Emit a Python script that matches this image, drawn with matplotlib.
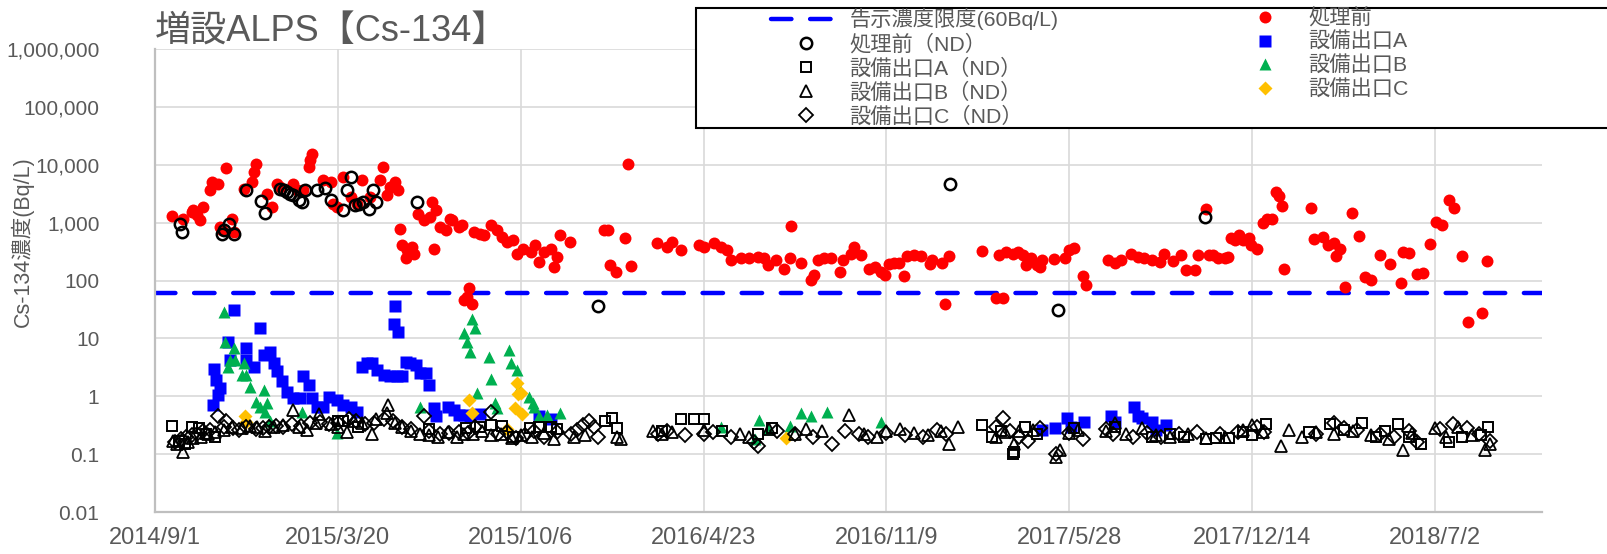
import numpy as np
import matplotlib
matplotlib.use('Agg')
import matplotlib.pyplot as plt
from matplotlib.ticker import FixedLocator, FuncFormatter
from matplotlib.patches import Rectangle

plt.rcParams['font.family'] = ['Liberation Sans', 'Noto Sans CJK JP']

W, H = 1608, 554
START = np.datetime64('2014-09-01')
END_DAY = 1517
LIMIT = 60  # 告示濃度限度 Bq/L
GRAY = '#595959'

# all x values are days since 2014/9/1, y values in Bq/L

# 処理前
pre_days = [19, 31, 40, 42, 46, 49, 53, 60, 62, 69, 71, 73, 78, 84, 86, 97, 106, 108, 111, 122,
            128, 133, 137, 151, 155, 162, 168, 170, 172, 184, 192, 195, 199, 206, 214, 221, 226,
            235, 246, 249, 254, 257, 263, 266, 268, 270, 274, 276, 281, 283, 288, 294, 301, 303,
            305, 307, 312, 318, 323, 325, 332, 336, 338, 341, 343, 347, 349, 356, 360, 367, 374,
            380, 385,
            392, 396, 403, 411, 416, 420, 425, 433, 436, 440, 443, 454, 491, 496, 498, 504, 514,
            517, 521, 549, 560, 566, 575, 595, 600, 611, 619, 626, 630, 641, 650, 659, 666, 670,
            679, 688, 694, 696, 707, 717, 721, 725, 732, 739, 749, 752, 761, 765,
            772, 781, 787, 794, 798, 803, 808, 814, 819, 823, 830, 838, 848, 850, 861, 864, 868,
            904, 920, 923, 927, 931, 938, 944, 949, 953, 958, 965, 968, 970, 983, 995, 1000, 1005,
            1015, 1018, 1042, 1050, 1057, 1068, 1075, 1082, 1090, 1099, 1104, 1113, 1122, 1128,
            1137, 1141, 1150, 1153,
            1157, 1163, 1170, 1174, 1177, 1181, 1186, 1190, 1197, 1199, 1205, 1212, 1216, 1222,
            1226, 1229, 1233, 1235, 1264, 1268, 1277, 1283, 1289, 1292, 1296, 1302, 1309, 1317,
            1323, 1330, 1340, 1351, 1363, 1365, 1372, 1380, 1387, 1394, 1401, 1408, 1415, 1421,
            1429, 1436, 1451, 1457]
pre_vals = [1285, 1170, 1530, 1630, 1340, 1100, 1860, 3600, 5000, 4700, 840, 740, 8900, 1170, 690,
            3850, 5000, 7500, 10400, 3160, 1860, 4700, 4120, 4700, 3600, 3600, 9100, 11900, 15500,
            5370, 5000, 2130, 1860, 6100, 2770, 2130, 5370, 2770, 5370, 9100, 2960, 4120, 5000,
            3600, 790, 406, 240, 333, 380, 292, 1430, 1100, 1250, 2270, 356, 1630, 840, 740, 1170,
            1100, 840, 900, 46, 52, 73, 40, 690, 645, 605, 900, 740, 566, 464,
            495, 292, 356, 312, 406, 210, 312, 356, 172, 256, 605, 464, 740, 740, 184, 141, 551,
            10400, 181, 446, 380, 464, 333, 406, 380, 446, 380, 333, 224, 240, 240, 256, 240, 184,
            224, 161, 240, 877, 202, 101, 124, 224, 240, 240, 141, 224, 292, 380,
            273, 161, 172, 141, 124, 196, 204, 202, 119, 263, 273, 263, 191, 224, 202, 39, 263,
            324, 49, 273, 49, 312, 292, 312, 273, 184, 240, 184, 172, 224, 233, 249, 333, 371,
            119, 83, 224, 202, 230, 292, 256, 240, 224, 210, 292, 218, 273, 151,
            151, 281, 1740, 273,
            273, 240, 240, 256, 551, 509, 605, 495, 551, 406, 356, 986, 1170, 1170,
            3380, 2840, 1960, 155, 1820, 529, 566, 406, 446, 263, 356, 78, 1470, 589,
            116, 104, 281, 196, 89, 308, 300, 132, 135, 423, 1025, 900, 2430, 1820,
            263, 18.9, 27.7, 215]

# 処理前（ND）
pre_nd_days = [27, 30, 73, 75, 81, 86, 100, 116, 120, 137, 141, 144, 148, 151, 157, 161, 164, 177,
               186, 192, 206, 210, 214, 219, 223, 228, 234, 238, 242, 287, 485, 870, 988, 1148]
pre_nd_vals = [960, 690, 645, 740, 960, 645, 3600, 2330, 1470, 3850, 3600, 3380, 3160, 2960, 2500,
               2270, 3700, 3700, 3960, 2500, 1680, 3700, 6100, 1990, 2130, 2270, 1740, 3600, 2270,
               2270, 36, 4700, 31, 1250]

# 設備出口A
a_days = [63, 64, 67, 69, 71, 80, 82, 86, 99, 100, 108, 115, 119, 126, 130, 133, 139, 144, 151,
          159, 162, 168, 172, 177, 184, 190, 199, 206, 214, 221, 226, 232, 237, 243, 250, 257,
          261, 263, 265, 266, 270, 274, 279, 285, 290, 296, 300, 305, 307, 321, 327, 332, 338,
          345, 356, 420, 433, 970, 984, 998, 1002, 1016, 1046, 1050, 1071, 1075, 1080, 1090,
          1095, 1106]
a_vals = [0.71, 2.9, 1.9, 1.05, 1.37, 8.8, 4.2, 30.8, 6.7, 4.2, 3.2, 14.9, 5.2, 5.9, 3.7, 2.7, 1.8,
          1.2, 0.92, 0.92, 2.2, 1.57, 0.92, 0.66, 0.66, 0.99, 0.87, 0.71, 0.66, 0.54, 3.25, 3.7,
          3.7, 2.8, 2.33, 2.2, 18, 36, 2.2, 13, 2.2, 3.96, 3.7, 3.47, 2.5, 2.5, 1.57, 0.62, 0.45,
          0.66, 0.58, 0.47, 0.47, 0.45, 0.5, 0.45, 0.4, 0.26, 0.28, 0.42, 0.30, 0.36, 0.45, 0.36,
          0.66, 0.45, 0.42, 0.36, 0.26, 0.32]

# 設備出口B
b_days = [75, 77, 80, 82, 86, 88, 95, 97, 99, 104, 111, 115, 119, 120, 122, 126, 161, 199, 290,
          338, 341, 345, 347, 350, 352, 365, 367, 372, 374, 387, 389, 396, 398, 409, 413, 414,
          420, 429, 443, 619, 656, 661, 670, 695, 707, 717, 735, 794]
b_vals = [29, 8.8, 3.2, 4.2, 6.7, 4.2, 2.33, 3.7, 2.33, 1.46, 0.81, 0.66, 1.28, 0.54, 0.76, 0.37,
          0.54, 0.23, 0.66, 12.2, 8.8, 5.9, 22, 14.9, 1.13, 4.8, 2.0, 0.76, 0.62, 6.3, 3.7, 2.85,
          1.37, 0.99, 0.76, 0.66, 0.45, 0.48, 0.51, 0.30, 0.18, 0.39, 0.27, 0.31, 0.52, 0.45,
          0.54, 0.36]

# 設備出口C
c_days = [98, 100, 343, 347, 385, 394, 396, 397, 400, 401, 690]
c_vals = [0.46, 0.36, 0.86, 0.52, 0.27, 0.62, 1.7, 1.1, 1.13, 0.5, 0.19]

# 設備出口A（ND）
a_nd_days = [19, 26, 33, 40, 48, 56, 66, 200, 206, 222, 300, 340, 355, 368, 380, 392, 410, 420,
             433, 440, 492, 500, 505, 555, 575, 590, 600, 620, 660, 675, 905, 915, 925, 938, 940,
             952, 965, 1005, 1050, 1090, 1110, 1125, 1150, 1160, 1175, 1190, 1200, 1215, 1262,
             1285, 1300, 1320, 1335, 1345, 1360, 1372, 1385, 1415, 1430, 1450, 1458]
a_nd_vals = [0.31, 0.17, 0.15, 0.3, 0.28, 0.22, 0.2, 0.38, 0.37, 0.3, 0.27, 0.28, 0.3, 0.32, 0.31,
             0.2, 0.28, 0.3, 0.3, 0.27, 0.38, 0.42, 0.28, 0.25, 0.4, 0.4, 0.41, 0.25, 0.22, 0.28,
             0.32, 0.2, 0.25, 0.1, 0.11, 0.3, 0.22, 0.28, 0.3, 0.2, 0.22, 0.2, 0.18, 0.19, 0.19,
             0.24, 0.21, 0.33, 0.24, 0.33, 0.26, 0.34, 0.2, 0.25, 0.33, 0.2, 0.15, 0.16, 0.2, 0.21,
             0.3]

# 設備出口B（ND）
b_nd_days = [20, 24, 31, 36, 42, 50, 58, 66, 75, 84, 95, 104, 112, 120, 130, 140, 151, 158, 166,
             176, 179, 192, 200, 210, 218, 226, 237, 242, 254, 255, 262, 270, 280, 290, 300, 310,
             320, 330, 338, 348, 358, 368, 378, 390, 400, 412, 425, 436, 458, 470, 505, 510, 545,
             555, 565, 600, 640, 650, 672, 700, 712, 730, 759, 775, 790, 800, 815, 830, 845, 860,
             868, 878, 920, 930, 940, 945, 960, 985, 990, 1000, 1010, 1040, 1050, 1062, 1080, 1095,
             1110, 1130, 1150, 1170, 1190, 1200, 1212, 1232, 1240, 1255, 1270, 1290, 1310, 1330,
             1350, 1365, 1375, 1400, 1412, 1425, 1440, 1455, 1460]
b_nd_vals = [0.17, 0.15, 0.11, 0.16, 0.19, 0.2, 0.22, 0.24, 0.26, 0.3, 0.28, 0.31, 0.29, 0.25, 0.3,
             0.32, 0.58, 0.3, 0.26, 0.35, 0.5, 0.33, 0.3, 0.24, 0.37, 0.34, 0.22, 0.4, 0.52, 0.71,
             0.35, 0.3, 0.25, 0.22, 0.21, 0.2, 0.24, 0.2, 0.22, 0.22, 0.25, 0.21, 0.22, 0.19, 0.21,
             0.2, 0.23, 0.18, 0.2, 0.21, 0.2, 0.18, 0.25, 0.22, 0.24, 0.26, 0.22, 0.2, 0.27, 0.22,
             0.27, 0.25, 0.48, 0.22, 0.2, 0.25, 0.27, 0.23, 0.21, 0.25, 0.15, 0.29, 0.2, 0.24, 0.15,
             0.25, 0.26, 0.09, 0.12, 0.23, 0.26, 0.25, 0.35, 0.22, 0.28, 0.21, 0.2, 0.22, 0.19, 0.2,
             0.26, 0.32, 0.24, 0.14, 0.26, 0.2, 0.24, 0.22, 0.25, 0.21, 0.18, 0.12, 0.23, 0.28,
             0.2, 0.3, 0.21, 0.12, 0.15]

# 設備出口C（ND）
c_nd_days = [22, 28, 34, 40, 46, 52, 60, 69, 75, 78, 85, 92, 100, 110, 118, 125, 132, 140, 150,
             160, 170, 180, 190, 200, 212, 220, 230, 240, 250, 260, 270, 280, 294, 300, 312, 322,
             332, 342, 350, 367, 375, 385, 395, 405, 415, 425, 440, 455, 462, 468, 475, 480, 485,
             550, 560, 580, 600, 610, 630, 655, 660, 680, 700, 720, 740, 755, 770, 780, 800, 820,
             840, 855, 865, 920, 928, 935, 945, 955, 968, 985, 1000, 1015, 1040, 1048, 1070, 1085,
             1100, 1120, 1140, 1165, 1185, 1205, 1213, 1270, 1290, 1300, 1315, 1340, 1355, 1372,
             1380, 1405, 1420, 1435, 1448, 1460]
c_nd_vals = [0.16, 0.18, 0.2, 0.21, 0.22, 0.25, 0.26, 0.45, 0.3, 0.37, 0.28, 0.26, 0.3, 0.27, 0.28,
             0.3, 0.31, 0.3, 0.33, 0.31, 0.34, 0.36, 0.33, 0.35, 0.4, 0.38, 0.33, 0.34, 0.4, 0.37,
             0.3, 0.27, 0.45, 0.25, 0.22, 0.23, 0.24, 0.23, 0.3, 0.53, 0.22, 0.24, 0.19, 0.21, 0.25,
             0.2, 0.24, 0.22, 0.26, 0.32, 0.38, 0.3, 0.2, 0.22, 0.25, 0.21, 0.22, 0.24, 0.2, 0.16,
             0.14, 0.25, 0.22, 0.2, 0.15, 0.25, 0.22, 0.2, 0.23, 0.21, 0.2, 0.26, 0.22, 0.3, 0.42,
             0.25, 0.2, 0.17, 0.28, 0.1, 0.23, 0.18, 0.27, 0.22, 0.2, 0.23, 0.2, 0.22, 0.24, 0.22,
             0.24, 0.3, 0.24, 0.22, 0.35, 0.28, 0.26, 0.22, 0.2, 0.25, 0.16, 0.27, 0.33, 0.28, 0.22,
             0.17]

y_ticks = [0.01, 0.1, 1, 10, 100, 1000, 10000, 100000, 1000000]
x_tick_days = [0, 200, 400, 600, 800, 1000, 1200, 1400]


def to_date(days):
    return START + np.array(days, dtype='timedelta64[D]')


fig = plt.figure(figsize=(W / 100, H / 100), dpi=100)
ax = fig.add_axes([155 / W, 1 - 512 / H, (1542 - 155) / W, (512 - 49) / H])

line_lim = ax.axhline(LIMIT, color='#0000ff', lw=3.2, dashes=(4.6, 4.2), dash_capstyle='round',
                      label='告示濃度限度(60Bq/L)', zorder=2)
p_pre, = ax.plot(to_date(pre_days), pre_vals, 'o', ms=8.6, mfc='#ff0000', mec='none',
                 label='処理前', zorder=3)
p_a, = ax.plot(to_date(a_days), a_vals, 's', ms=8, mfc='#0000ff', mec='none',
               label='設備出口A', zorder=3)
p_b, = ax.plot(to_date(b_days), b_vals, '^', ms=9.2, mfc='#00b050', mec='none',
               label='設備出口B', zorder=3)
p_c, = ax.plot(to_date(c_days), c_vals, 'D', ms=7.4, mfc='#ffc000', mec='none',
               label='設備出口C', zorder=3)
p_pre_nd, = ax.plot(to_date(pre_nd_days), pre_nd_vals, 'o', ms=8.2, mfc='none', mec='black',
                    mew=1.8, label='処理前（ND）', zorder=4)
p_a_nd, = ax.plot(to_date(a_nd_days), a_nd_vals, 's', ms=7.6, mfc='none', mec='black',
                  mew=1.4, label='設備出口A（ND）', zorder=4)
p_b_nd, = ax.plot(to_date(b_nd_days), b_nd_vals, '^', ms=8.4, mfc='none', mec='black',
                  mew=1.3, label='設備出口B（ND）', zorder=4)
p_c_nd, = ax.plot(to_date(c_nd_days), c_nd_vals, 'D', ms=6.8, mfc='none', mec='black',
                  mew=1.3, label='設備出口C（ND）', zorder=4)

ax.set_yscale('log')
ax.set_ylim(0.01, 1000000)
ax.set_xlim(START, START + np.timedelta64(END_DAY, 'D'))
ax.yaxis.set_major_locator(FixedLocator(y_ticks))
ax.yaxis.set_minor_locator(FixedLocator([]))
ax.yaxis.set_major_formatter(FuncFormatter(lambda v, p: f'{v:,.0f}' if v >= 1 else f'{v:g}'))

xt = to_date(x_tick_days)
ax.set_xticks(xt)
ax.set_xticklabels([f'{d.year}/{d.month}/{d.day}' for d in xt.astype(object)])

ax.grid(True, color='#d9d9d9', lw=1.2)
ax.set_axisbelow(True)
for s in ['top', 'right']:
    ax.spines[s].set_visible(False)
for s in ['left', 'bottom']:
    ax.spines[s].set_color('#bfbfbf')
    ax.spines[s].set_linewidth(1.6)
ax.tick_params(axis='both', length=0, colors=GRAY)
ax.tick_params(axis='y', pad=40, labelsize=15)
ax.tick_params(axis='x', pad=11, labelsize=17)

ax.set_ylabel('Cs-134濃度(Bq/L)', fontsize=15.5, color=GRAY)
ax.yaxis.set_label_coords(-0.087, 0.585)

fig.text(155 / W, 1 - 42 / H, '増設ALPS【Cs-134】', fontsize=26, color=GRAY, va='baseline')

# legend frame runs off the right edge of the picture
fig.add_artist(Rectangle((696 / W, 1 - 128 / H), (1700 - 696) / W, (128 - 8) / H,
                         transform=fig.transFigure, facecolor='white', edgecolor='black',
                         lw=1.5, zorder=1))
leg_kw = dict(loc='upper left', frameon=False, fontsize=15.3, borderpad=0, borderaxespad=0,
              handlelength=3.3, handletextpad=0.4, labelspacing=0.17, labelcolor=GRAY)
leg1 = fig.legend(handles=[line_lim, p_pre_nd, p_a_nd, p_b_nd, p_c_nd],
                  bbox_to_anchor=(771 / W, 1 - 8 / H), **leg_kw)
leg2 = fig.legend(handles=[p_pre, p_a, p_b, p_c],
                  bbox_to_anchor=(1230 / W, 1 - 8 / H), **leg_kw)
leg1.set_zorder(5)
leg2.set_zorder(5)

fig.savefig('out.png', dpi=100)
